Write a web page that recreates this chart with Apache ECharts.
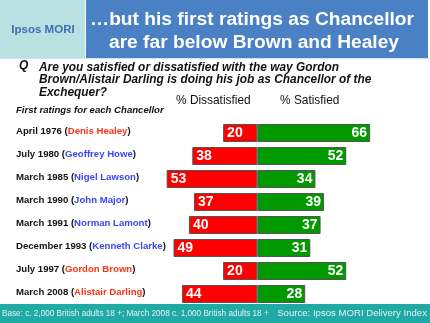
<!DOCTYPE html>
<html>
<head>
<meta charset="utf-8">
<script src="https://cdn.jsdelivr.net/npm/echarts@6/dist/echarts.min.js"></script>
<style>
  html, body { margin: 0; padding: 0; background: #ffffff; }
  #chart { width: 430px; height: 323px; }
</style>
</head>
<body>
<div id="chart"></div>
<script>
// First ratings for each Chancellor of the Exchequer
const dates = ['April 1976', 'July 1980', 'March 1985', 'March 1990', 'March 1991', 'December 1993', 'July 1997', 'March 2008'];
const chancellors = ['Denis Healey', 'Geoffrey Howe', 'Nigel Lawson', 'John Major', 'Norman Lamont', 'Kenneth Clarke', 'Gordon Brown', 'Alistair Darling'];
const labourChancellor = [true, false, false, false, false, false, true, true];
const dissatisfied = [20, 38, 53, 37, 40, 49, 20, 44];
const satisfied = [66, 52, 34, 39, 37, 31, 52, 28];

const FONT = '"Liberation Sans", Arial, sans-serif';

const chart = echarts.init(document.getElementById('chart'), null, { renderer: 'canvas' });

const categories = dates.map((d, i) => d + ' (' + chancellors[i] + ')');

const option = {
  animation: false,
  backgroundColor: '#ffffff',
  grid: { left: 154.7, right: 53, top: 121.5, bottom: 17.5, containLabel: false },
  xAxis: {
    type: 'value', min: -60, max: 70,
    show: false
  },
  yAxis: {
    type: 'category',
    inverse: true,
    data: categories,
    axisLine: { show: false },
    axisTick: { show: false },
    splitLine: { show: false },
    axisLabel: {
      align: 'left',
      margin: 138.7,
      padding: [0, 0, 4, 0],
      formatter: function (value, idx) {
        const tag = labourChancellor[idx] ? 'r' : 'b';
        return '{d|' + dates[idx] + ' (}{' + tag + '|' + chancellors[idx] + '}{d|)}';
      },
      rich: {
        d: { fontFamily: FONT, fontSize: 9.6, fontWeight: 'bold', color: '#111111' },
        r: { fontFamily: FONT, fontSize: 9.6, fontWeight: 'bold', color: '#ff3311' },
        b: { fontFamily: FONT, fontSize: 9.6, fontWeight: 'bold', color: '#3a46f0' }
      }
    }
  },
  series: [
    {
      name: '% Dissatisfied',
      type: 'bar',
      stack: 'rating',
      barWidth: 18,
      data: dissatisfied.map(v => -v),
      itemStyle: { color: '#ff0000', borderColor: '#555555', borderWidth: 1 },
      label: {
        show: true, position: 'insideLeft', distance: 4,
        formatter: p => Math.abs(p.value),
        fontFamily: FONT, fontSize: 14, fontWeight: 'bold', color: '#ffffff'
      }
    },
    {
      name: '% Satisfied',
      type: 'bar',
      stack: 'rating',
      barWidth: 18,
      data: satisfied,
      itemStyle: { color: '#009a00', borderColor: '#555555', borderWidth: 1 },
      label: {
        show: true, position: 'insideRight', distance: 3,
        fontFamily: FONT, fontSize: 14, fontWeight: 'bold', color: '#ffffff'
      }
    }
  ],
  graphic: [
    // header panels
    { type: 'rect', shape: { x: 0, y: 0, width: 85, height: 58 }, style: { fill: '#b9e1e2' }, silent: true },
    { type: 'rect', shape: { x: 86, y: 0, width: 342, height: 58 }, style: { fill: '#4a80c4' }, silent: true },
    { type: 'rect', shape: { x: 0, y: 58, width: 430, height: 1 }, style: { fill: '#cfe0ef' }, silent: true },
    {
      type: 'text', x: 43, y: 30, silent: true,
      style: { text: 'Ipsos MORI', fontFamily: FONT, fontSize: 11.5, fontWeight: 'bold', fill: '#3d6fb8', align: 'center', verticalAlign: 'middle' }
    },
    {
      type: 'text', x: 252, y: 20, silent: true,
      style: { text: '\u2026but his first ratings as Chancellor', fontFamily: FONT, fontSize: 19.2, fontWeight: 'bold', fill: '#ffffff', align: 'center', verticalAlign: 'middle' }
    },
    {
      type: 'text', x: 254, y: 43, silent: true,
      style: { text: 'are far below Brown and Healey', fontFamily: FONT, fontSize: 19.2, fontWeight: 'bold', fill: '#ffffff', align: 'center', verticalAlign: 'middle' }
    },
    // question
    {
      type: 'text', x: 19, y: 66, silent: true,
      style: { text: 'Q', fontFamily: FONT, fontSize: 12, fontWeight: 'bold', fontStyle: 'italic', fill: '#111111', verticalAlign: 'middle' }
    },
    {
      type: 'text', x: 39, y: 61, silent: true,
      style: {
        text: 'Are you satisfied or dissatisfied with the way Gordon\nBrown/Alistair Darling is doing his job as Chancellor of the\nExchequer?',
        fontFamily: FONT, fontSize: 11.9, fontWeight: 'bold', fontStyle: 'italic', fill: '#111111',
        lineHeight: 12.5, verticalAlign: 'top'
      }
    },
    {
      type: 'text', x: 16, y: 110, silent: true,
      style: { text: 'First ratings for each Chancellor', fontFamily: FONT, fontSize: 9.6, fontWeight: 'bold', fontStyle: 'italic', fill: '#111111', verticalAlign: 'middle' }
    },
    {
      type: 'text', x: 176, y: 101, silent: true,
      style: { text: '% Dissatisfied', fontFamily: FONT, fontSize: 11.9, fill: '#111111', verticalAlign: 'middle' }
    },
    {
      type: 'text', x: 280, y: 101, silent: true,
      style: { text: '% Satisfied', fontFamily: FONT, fontSize: 11.9, fill: '#111111', verticalAlign: 'middle' }
    },
    // footer band
    { type: 'rect', shape: { x: 0, y: 304, width: 430, height: 19 }, style: { fill: '#1faaa5' }, silent: true },
    {
      type: 'text', x: 2, y: 314, silent: true,
      style: { text: 'Base: c. 2,000 British adults 18 +; March 2008 c. 1,000 British adults 18 +', fontFamily: FONT, fontSize: 8.2, fill: '#dff3f1', verticalAlign: 'middle' }
    },
    {
      type: 'text', x: 427, y: 313, silent: true,
      style: { text: 'Source: Ipsos MORI Delivery Index', fontFamily: FONT, fontSize: 9.6, fill: '#dff3f1', align: 'right', verticalAlign: 'middle' }
    }
  ]
};

chart.setOption(option);
</script>
</body>
</html>
